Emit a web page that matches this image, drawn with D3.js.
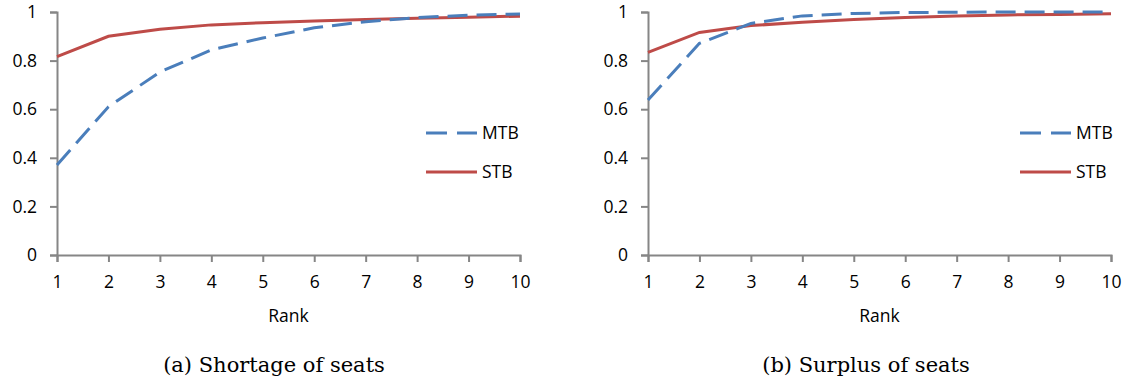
<!DOCTYPE html>
<html>
<head>
<meta charset="utf-8">
<script src="https://cdn.jsdelivr.net/npm/d3@7"></script>
<style>
  body { margin: 0; background: #fff; }
  svg { display: block; }
  .tick text { font-family: "Open Sans", Lato, sans-serif; font-size: 17.5px; fill: #000; }
</style>
</head>
<body>
<div id="chart"></div>
<script>
// Data
const ranks = [1, 2, 3, 4, 5, 6, 7, 8, 9, 10];
const yTicks = [0, 0.2, 0.4, 0.6, 0.8, 1];

const shortageMTB = [0.37, 0.61, 0.753, 0.844, 0.893, 0.935, 0.96, 0.977, 0.987, 0.992];
const shortageSTB = [0.816, 0.90, 0.929, 0.947, 0.956, 0.963, 0.969, 0.974, 0.978, 0.983];

const surplusMTB = [0.638, 0.871, 0.953, 0.984, 0.994, 0.998, 0.999, 1.0, 1.0, 1.0];
const surplusSTB = [0.834, 0.916, 0.944, 0.958, 0.969, 0.977, 0.984, 0.988, 0.99, 0.993];

const seriesNames = ["MTB", "STB"];
const captions = ["(a) Shortage of seats", "(b) Surplus of seats"];

const width = 1128;
const height = 383;
const blue = "#4a7ebb";
const red = "#be4b48";
const axisGrey = "#868686";
const sans = "'Open Sans', Lato, sans-serif";

const svg = d3.select("#chart")
    .append("svg")
    .attr("width", width)
    .attr("height", height);

// one panel per sub-figure
const panels = [
    { left: 57, right: 520, mtb: shortageMTB, stb: shortageSTB, legendX: 426, captionX: 274, caption: captions[0] },
    { left: 648, right: 1111, mtb: surplusMTB, stb: surplusSTB, legendX: 1020, captionX: 866, caption: captions[1] }
];

const plotTop = 12, plotBottom = 255;

panels.forEach(p => {
    const x = d3.scaleLinear().domain([1, 10]).range([p.left, p.right]);
    const y = d3.scaleLinear().domain([0, 1]).range([plotBottom, plotTop]);

    const g = svg.append("g");

    // y axis
    const yAxis = g.append("g")
        .attr("transform", `translate(${p.left},0)`)
        .call(d3.axisLeft(y).tickValues(yTicks).tickSize(7).tickPadding(13).tickFormat(d3.format("")));

    // x axis
    const xAxis = g.append("g")
        .attr("transform", `translate(0,${plotBottom})`)
        .call(d3.axisBottom(x).tickValues(ranks).tickSize(7).tickPadding(14).tickFormat(d3.format("d")));

    [yAxis, xAxis].forEach(a => {
        a.select(".domain").attr("stroke", axisGrey).attr("stroke-width", 2);
        a.selectAll(".tick line").attr("stroke", axisGrey).attr("stroke-width", 2);
    });

    // x axis title
    g.append("text")
        .attr("x", (p.left + p.right) / 2)
        .attr("y", 322)
        .attr("text-anchor", "middle")
        .attr("font-family", sans)
        .attr("font-size", 17.5)
        .text("Rank");

    const line = d3.line()
        .x((d, i) => x(ranks[i]))
        .y(d => y(d));

    // STB (solid red)
    g.append("path")
        .datum(p.stb)
        .attr("d", line)
        .attr("fill", "none")
        .attr("stroke", red)
        .attr("stroke-width", 3);

    // MTB (dashed blue)
    g.append("path")
        .datum(p.mtb)
        .attr("d", line)
        .attr("fill", "none")
        .attr("stroke", blue)
        .attr("stroke-width", 3)
        .attr("stroke-dasharray", "20,9");

    // legend
    const legend = g.append("g");
    seriesNames.forEach((name, i) => {
        const ly = 133 + i * 39;
        legend.append("line")
            .attr("x1", p.legendX)
            .attr("x2", p.legendX + 51)
            .attr("y1", ly)
            .attr("y2", ly)
            .attr("stroke", i === 0 ? blue : red)
            .attr("stroke-width", 3)
            .attr("stroke-dasharray", i === 0 ? "21,10" : null);
        legend.append("text")
            .attr("x", p.legendX + 56)
            .attr("y", ly)
            .attr("dy", "0.36em")
            .attr("font-family", sans)
            .attr("font-size", 17.5)
            .text(name);
    });

    // caption below
    svg.append("text")
        .attr("x", p.captionX)
        .attr("y", 372)
        .attr("text-anchor", "middle")
        .attr("font-family", "'DejaVu Serif', 'Liberation Serif', serif")
        .attr("font-size", 21)
        .text(p.caption);
});
</script>
</body>
</html>
